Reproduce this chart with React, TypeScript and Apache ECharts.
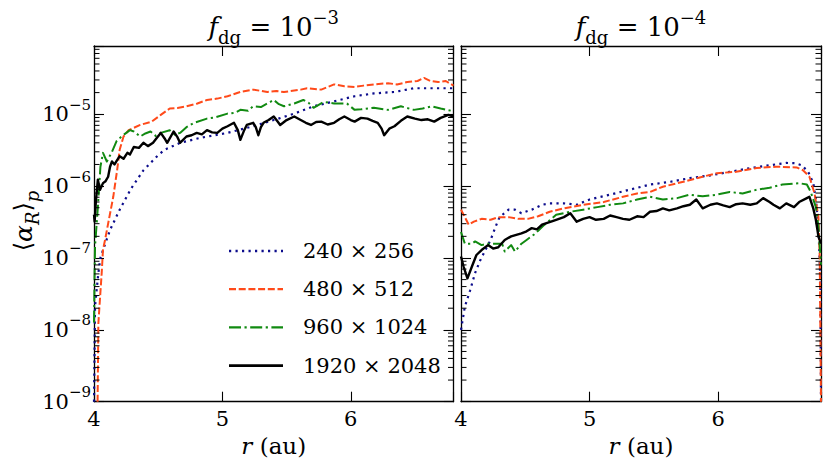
import React, { useEffect, useRef } from 'react';
import * as echarts from 'echarts';

const FONT = 'DejaVu Serif';

const SERIES_NAMES = ['240 × 256', '480 × 512', '960 × 1024', '1920 × 2048'];
const PANEL_TITLES = ['−3', '−4'];
const X_MIN = 4;
const X_MAX = 6.8;
const Y_MIN = 1e-9;
const Y_MAX = 8.9e-5;
const MINOR_MANTISSAS = [2, 3, 4, 5, 6, 7, 8, 9];
const DECADES = [-9, -8, -7, -6, -5];

// f_dg = 1e-3 panel
const L_240 = [
  [4.0, 1.0e-9], [4.008, 2.1e-8], [4.02, 3.5e-8], [4.034, 6.2e-8], [4.05, 1.0e-7], [4.08, 1.45e-7],
  [4.125, 2.45e-7], [4.2, 4.7e-7], [4.29, 9.3e-7], [4.385, 1.66e-6], [4.5, 2.7e-6], [4.55, 3.2e-6],
  [4.67, 4.0e-6], [4.83, 4.7e-6], [5.04, 5.5e-6], [5.24, 6.8e-6], [5.4, 8.3e-6], [5.56, 1.02e-5],
  [5.71, 1.29e-5], [5.87, 1.51e-5], [6.03, 1.78e-5], [6.18, 1.95e-5], [6.34, 2.04e-5], [6.49, 2.3e-5],
  [6.65, 2.3e-5], [6.8, 2.3e-5],
];
const L_480 = [
  [4.028, 1.0e-9], [4.034, 1.23e-8], [4.047, 2.8e-8], [4.06, 6.2e-8], [4.07, 1.3e-7], [4.086, 1.78e-7],
  [4.11, 3.0e-7], [4.15, 7.1e-7], [4.18, 1.66e-6], [4.2, 3.2e-6], [4.23, 4.9e-6], [4.27, 6.0e-6],
  [4.36, 7.1e-6], [4.45, 7.9e-6], [4.52, 9.8e-6], [4.59, 1.2e-5], [4.65, 1.22e-5], [4.72, 1.29e-5],
  [4.8, 1.4e-5], [4.88, 1.58e-5], [4.96, 1.65e-5], [5.04, 1.78e-5], [5.14, 2.04e-5], [5.24, 2.2e-5],
  [5.35, 2.04e-5], [5.42, 2.1e-5], [5.48, 2.04e-5], [5.61, 2.2e-5], [5.66, 2.3e-5], [5.77, 2.2e-5],
  [5.87, 2.6e-5], [5.95, 2.45e-5], [6.03, 2.4e-5], [6.1, 2.5e-5], [6.18, 2.6e-5], [6.29, 2.7e-5],
  [6.36, 2.6e-5], [6.44, 2.8e-5], [6.52, 2.9e-5], [6.57, 3.2e-5], [6.62, 2.9e-5], [6.68, 2.8e-5],
  [6.74, 2.9e-5], [6.8, 2.5e-5],
];
const L_960 = [
  [4.0, 1.26e-8], [4.004, 5.0e-8], [4.008, 1.45e-7], [4.03, 5.1e-7], [4.05, 1.86e-6], [4.07, 2.9e-6],
  [4.1, 2.2e-6], [4.14, 3.0e-6], [4.175, 4.2e-6], [4.22, 5.0e-6], [4.28, 6.0e-6], [4.31, 5.75e-6],
  [4.36, 4.9e-6], [4.4, 5.4e-6], [4.44, 5.75e-6], [4.48, 5.0e-6], [4.52, 5.5e-6], [4.59, 6.0e-6],
  [4.63, 5.2e-6], [4.67, 5.5e-6], [4.72, 6.6e-6], [4.78, 7.6e-6], [4.88, 8.7e-6], [4.95, 9.1e-6],
  [5.04, 1.02e-5], [5.1, 1.05e-5], [5.14, 1.15e-5], [5.2, 1.12e-5], [5.24, 1.29e-5], [5.3, 1.26e-5],
  [5.35, 1.41e-5], [5.4, 1.58e-5], [5.44, 1.38e-5], [5.48, 1.29e-5], [5.56, 1.41e-5], [5.63, 1.58e-5],
  [5.67, 1.45e-5], [5.71, 1.23e-5], [5.79, 1.48e-5], [5.87, 1.41e-5], [5.97, 1.41e-5], [6.03, 1.15e-5],
  [6.08, 1.17e-5], [6.18, 1.23e-5], [6.29, 1.15e-5], [6.39, 1.29e-5], [6.49, 1.15e-5], [6.56, 1.2e-5],
  [6.63, 1.29e-5], [6.7, 1.2e-5], [6.75, 1.15e-5], [6.8, 1.1e-5],
];
const L_1920 = [
  [4.0, 4.0e-7], [4.005, 3.2e-7], [4.015, 6.3e-7], [4.03, 1.23e-6], [4.047, 8.9e-7], [4.07, 1.1e-6],
  [4.09, 1.17e-6], [4.11, 1.35e-6], [4.125, 1.86e-6], [4.14, 2.2e-6], [4.16, 2.0e-6], [4.18, 2.3e-6],
  [4.2, 2.6e-6], [4.23, 2.4e-6], [4.26, 2.9e-6], [4.28, 2.75e-6], [4.31, 3.5e-6], [4.35, 3.4e-6],
  [4.385, 4.0e-6], [4.42, 3.6e-6], [4.46, 4.0e-6], [4.49, 4.7e-6], [4.52, 5.5e-6], [4.55, 4.6e-6],
  [4.57, 4.0e-6], [4.62, 5.75e-6], [4.65, 4.8e-6], [4.67, 4.0e-6], [4.72, 4.9e-6], [4.76, 5.1e-6],
  [4.8, 5.5e-6], [4.84, 5.25e-6], [4.88, 6.0e-6], [4.92, 5.6e-6], [4.96, 5.5e-6], [5.0, 6.3e-6],
  [5.04, 6.8e-6], [5.09, 7.6e-6], [5.12, 6.0e-6], [5.14, 4.4e-6], [5.17, 6.0e-6], [5.19, 7.1e-6],
  [5.24, 7.6e-6], [5.26, 6.6e-6], [5.28, 5.1e-6], [5.3, 6.6e-6], [5.32, 7.6e-6], [5.36, 8.3e-6],
  [5.4, 9.3e-6], [5.43, 7.9e-6], [5.45, 7.1e-6], [5.5, 8.3e-6], [5.56, 9.3e-6], [5.61, 8.3e-6],
  [5.65, 7.6e-6], [5.69, 7.1e-6], [5.73, 7.8e-6], [5.77, 7.9e-6], [5.82, 7.2e-6], [5.87, 7.6e-6],
  [5.91, 8.5e-6], [5.95, 9.3e-6], [6.0, 8.3e-6], [6.03, 7.9e-6], [6.08, 8.9e-6], [6.13, 8.7e-6],
  [6.17, 8.1e-6], [6.21, 7.6e-6], [6.24, 6.3e-6], [6.26, 5.1e-6], [6.3, 6.3e-6], [6.34, 6.8e-6],
  [6.39, 8.1e-6], [6.44, 9.3e-6], [6.5, 8.7e-6], [6.55, 8.3e-6], [6.6, 8.5e-6], [6.65, 7.9e-6],
  [6.7, 8.9e-6], [6.76, 9.8e-6], [6.8, 9.3e-6],
];

// f_dg = 1e-4 panel
const R_240 = [
  [4.0, 1.0e-8], [4.03, 2.1e-8], [4.07, 3.5e-8], [4.11, 6.2e-8], [4.15, 9.3e-8], [4.19, 1.29e-7],
  [4.23, 1.78e-7], [4.27, 2.75e-7], [4.3, 3.7e-7], [4.37, 4.7e-7], [4.42, 4.7e-7], [4.47, 4.2e-7],
  [4.55, 4.7e-7], [4.63, 5.5e-7], [4.69, 5.75e-7], [4.8, 5.75e-7], [4.9, 5.5e-7], [5.0, 6.5e-7],
  [5.16, 7.6e-7], [5.31, 8.9e-7], [5.47, 1.05e-6], [5.63, 1.15e-6], [5.78, 1.29e-6], [5.94, 1.41e-6],
  [6.09, 1.58e-6], [6.25, 1.78e-6], [6.4, 1.95e-6], [6.53, 2.1e-6], [6.6, 2.08e-6], [6.65, 1.95e-6],
  [6.7, 1.58e-6], [6.74, 1.1e-6], [6.76, 6.5e-7], [6.78, 2.75e-7], [6.795, 5.0e-8], [6.8, 1.0e-9],
];
const R_480 = [
  [4.0, 4.7e-7], [4.03, 3.7e-7], [4.06, 2.9e-7], [4.1, 3.2e-7], [4.16, 3.5e-7], [4.23, 3.4e-7],
  [4.29, 3.7e-7], [4.37, 3.7e-7], [4.45, 3.5e-7], [4.52, 3.5e-7], [4.6, 3.8e-7], [4.69, 4.4e-7],
  [4.8, 4.9e-7], [4.95, 5.5e-7], [5.11, 6.0e-7], [5.26, 7.1e-7], [5.37, 7.9e-7], [5.47, 8.3e-7],
  [5.57, 9.8e-7], [5.73, 1.15e-6], [5.88, 1.35e-6], [5.99, 1.51e-6], [6.14, 1.58e-6], [6.3, 1.78e-6],
  [6.45, 1.86e-6], [6.61, 1.82e-6], [6.66, 1.66e-6], [6.71, 1.35e-6], [6.75, 7.9e-7], [6.78, 3.7e-7],
  [6.79, 1.05e-7], [6.8, 1.0e-9],
];
const R_960 = [
  [4.0, 2.3e-7], [4.03, 1.58e-7], [4.085, 1.58e-7], [4.11, 1.7e-7], [4.16, 1.51e-7], [4.21, 1.58e-7],
  [4.27, 1.58e-7], [4.32, 1.58e-7], [4.34, 1.23e-7], [4.39, 1.51e-7], [4.42, 1.23e-7], [4.47, 1.58e-7],
  [4.51, 1.78e-7], [4.58, 2.2e-7], [4.64, 2.8e-7], [4.74, 4.0e-7], [4.85, 4.4e-7], [4.95, 4.7e-7],
  [5.06, 5.1e-7], [5.16, 5.5e-7], [5.26, 5.75e-7], [5.37, 6.5e-7], [5.47, 7.1e-7], [5.57, 6.5e-7],
  [5.68, 6.8e-7], [5.78, 7.6e-7], [5.88, 7.2e-7], [5.99, 7.6e-7], [6.09, 8.3e-7], [6.19, 7.9e-7],
  [6.3, 8.9e-7], [6.4, 9.5e-7], [6.5, 1.05e-6], [6.63, 1.1e-6], [6.69, 1.05e-6], [6.72, 8.3e-7],
  [6.76, 5.1e-7], [6.78, 2.75e-7], [6.8, 8.0e-8],
];
const R_1920 = [
  [4.0, 1.05e-7], [4.02, 7.6e-8], [4.05, 5.2e-8], [4.085, 7.6e-8], [4.12, 1.1e-7], [4.16, 1.29e-7],
  [4.21, 1.51e-7], [4.25, 1.35e-7], [4.29, 1.41e-7], [4.34, 1.78e-7], [4.39, 2.0e-7], [4.43, 2.1e-7],
  [4.47, 2.2e-7], [4.51, 2.35e-7], [4.55, 2.6e-7], [4.59, 2.5e-7], [4.63, 2.9e-7], [4.7, 3.2e-7],
  [4.74, 3.4e-7], [4.8, 3.7e-7], [4.85, 4.2e-7], [4.9, 3.2e-7], [4.95, 3.5e-7], [5.0, 3.7e-7],
  [5.05, 3.4e-7], [5.11, 3.5e-7], [5.16, 3.9e-7], [5.21, 3.7e-7], [5.26, 3.5e-7], [5.31, 3.4e-7],
  [5.37, 3.8e-7], [5.42, 3.7e-7], [5.47, 4.4e-7], [5.52, 4.5e-7], [5.57, 4.9e-7], [5.62, 4.6e-7],
  [5.68, 4.9e-7], [5.73, 5.25e-7], [5.78, 5.5e-7], [5.83, 6.5e-7], [5.88, 4.9e-7], [5.94, 5.5e-7],
  [5.99, 5.75e-7], [6.04, 5.4e-7], [6.09, 5.1e-7], [6.14, 5.6e-7], [6.19, 5.75e-7], [6.25, 5.5e-7],
  [6.3, 5.75e-7], [6.35, 6.8e-7], [6.4, 6.0e-7], [6.43, 5.5e-7], [6.48, 4.9e-7], [6.53, 5.75e-7],
  [6.59, 5.1e-7], [6.63, 6.0e-7], [6.69, 6.8e-7], [6.71, 7.1e-7], [6.74, 4.9e-7], [6.76, 3.4e-7],
  [6.78, 2.0e-7], [6.8, 1.58e-7],
];

const LEFT_DATA = [L_240, L_480, L_960, L_1920];
const RIGHT_DATA = [R_240, R_480, R_960, R_1920];

const COLORS = ['#0c0c8c', '#ff4a1a', '#118a11', '#000000'];
const DASHES: any[] = [[2.2, 4.3], [7, 2.7], [12, 3.5, 2.2, 3.5], 'solid'];
const WIDTHS = [2.2, 2, 2, 2.4];

const GRIDS = [
  { left: 94, top: 46, width: 359.5, height: 355.7 },
  { left: 461, top: 46, width: 360, height: 355.7 },
];

function isDecade(v: number) {
  const l = Math.log10(v);
  return Math.abs(l - Math.round(l)) < 1e-6;
}

export default function App() {
  const ref = useRef<HTMLDivElement>(null);
  useEffect(() => {
    document.body.style.margin = '0';
    const chart = echarts.init(ref.current!, null, { renderer: 'svg' });

    const minorVals: number[] = [];
    DECADES.forEach((d) =>
      MINOR_MANTISSAS.forEach((m) => {
        const v = m * Math.pow(10, d);
        if (v < Y_MAX) minorVals.push(v);
      })
    );

    const tickLine = { show: true, inside: true, length: 10, lineStyle: { color: '#000', width: 1.1 } };
    const axLine = { show: true, onZero: false, lineStyle: { color: '#000', width: 1.3 } };

    const xAxes: any[] = [];
    const yAxes: any[] = [];
    [0, 1].forEach((g) => {
      const nameRich = {
        i: { fontFamily: FONT, fontSize: 23, fontStyle: 'italic', color: '#000' },
        n: { fontFamily: FONT, fontSize: 23, color: '#000' },
      };
      xAxes.push({
        type: 'value', gridIndex: g, min: X_MIN, max: X_MAX, interval: 1, position: 'bottom',
        axisLine: axLine, axisTick: tickLine, splitLine: { show: false },
        axisLabel: {
          margin: 7, fontFamily: FONT, fontSize: 21, color: '#000',
          formatter: (v: number) => (Number.isInteger(v) ? String(v) : ''),
        },
        name: '{i|r}{n| (au)}', nameLocation: 'middle', nameGap: 30,
        nameTextStyle: { fontFamily: FONT, rich: nameRich },
      });
      xAxes.push({
        type: 'value', gridIndex: g, min: X_MIN, max: X_MAX, interval: 1, position: 'top',
        axisLine: axLine, axisTick: tickLine, splitLine: { show: false }, axisLabel: { show: false },
      });
      const yRich = {
        b: { fontFamily: FONT, fontSize: 21, color: '#000', lineHeight: 34 },
        s: { fontFamily: FONT, fontSize: 15, color: '#000', lineHeight: 18, verticalAlign: 'top' },
      };
      yAxes.push({
        type: 'log', logBase: 10, gridIndex: g, min: Y_MIN, max: Y_MAX, position: 'left',
        axisLine: axLine, axisTick: tickLine, splitLine: { show: false },
        axisLabel: {
          show: g === 0, margin: 3, fontFamily: FONT, rich: yRich,
          formatter: (v: number) => (isDecade(v) ? `{b|10}{s|−${-Math.round(Math.log10(v))}}` : ''),
        },
      });
      yAxes.push({
        type: 'log', logBase: 10, gridIndex: g, min: Y_MIN, max: Y_MAX, position: 'right',
        axisLine: axLine, axisTick: tickLine, splitLine: { show: false }, axisLabel: { show: false },
      });
    });

    const series: any[] = [];
    [LEFT_DATA, RIGHT_DATA].forEach((set, g) => {
      set.forEach((data, k) => {
        series.push({
          type: 'line', name: SERIES_NAMES[k], xAxisIndex: g * 2, yAxisIndex: g * 2,
          data, showSymbol: false, symbol: 'none', smooth: false,
          lineStyle: { color: COLORS[k], width: WIDTHS[k], type: DASHES[k], cap: 'butt', join: 'round' },
          itemStyle: { color: COLORS[k] },
          z: 2 + k,
        });
      });
      series.push({
        type: 'custom', xAxisIndex: g * 2, yAxisIndex: g * 2, silent: true, clip: false, z: 10,
        data: minorVals.map((v) => [X_MIN, v]),
        renderItem: (params: any, api: any) => {
          const v = api.value(1);
          const a = api.coord([X_MIN, v]);
          const b = api.coord([X_MAX, v]);
          const st = { stroke: '#000', lineWidth: 1 };
          return {
            type: 'group',
            children: [
              { type: 'line', shape: { x1: a[0], y1: a[1], x2: a[0] + 5.5, y2: a[1] }, style: st },
              { type: 'line', shape: { x1: b[0] - 5.5, y1: b[1], x2: b[0], y2: b[1] }, style: st },
            ],
          };
        },
      });
    });

    const titleRich = {
      i: { fontFamily: FONT, fontSize: 26, fontStyle: 'italic', color: '#000', lineHeight: 38 },
      d: { fontFamily: FONT, fontSize: 18, color: '#000', lineHeight: 26, verticalAlign: 'bottom' },
      n: { fontFamily: FONT, fontSize: 26, color: '#000', lineHeight: 38 },
      p: { fontFamily: FONT, fontSize: 18, color: '#000', lineHeight: 22, verticalAlign: 'top' },
    };
    const graphics: any[] = GRIDS.map((gr, g) => ({
      type: 'text',
      x: gr.left + gr.width / 2,
      y: 27,
      style: {
        text: `{i|f}{d|dg}{n| = 10}{p|${PANEL_TITLES[g]}}`,
        fontFamily: FONT,
        rich: titleRich, align: 'center', verticalAlign: 'middle',
      },
    }));
    graphics.push({
      type: 'text',
      x: 23,
      y: 221,
      rotation: Math.PI / 2,
      style: {
        text: '{a|⟨}{g|α}{s|R}{a|⟩}{s|p}',
        fontFamily: FONT,
        align: 'center', verticalAlign: 'middle',
        rich: {
          a: { fontFamily: FONT, fontSize: 24, color: '#000', lineHeight: 36 },
          g: { fontFamily: FONT, fontSize: 25, fontStyle: 'italic', color: '#000', lineHeight: 36 },
          s: { fontFamily: FONT, fontSize: 18, fontStyle: 'italic', color: '#000', lineHeight: 24, verticalAlign: 'bottom' },
        },
      },
    });

    const LEG_X = 229;
    const LEG_TOP = 251;
    const LEG_STEP = 38.2;
    SERIES_NAMES.forEach((nm, k) => {
      const y = LEG_TOP + k * LEG_STEP;
      graphics.push({
        type: 'line',
        shape: { x1: LEG_X, y1: y, x2: LEG_X + 54, y2: y },
        style: {
          stroke: COLORS[k], lineWidth: WIDTHS[k] + 0.2,
          lineDash: Array.isArray(DASHES[k]) ? DASHES[k] : null,
        },
        z: 20,
      });
      graphics.push({
        type: 'text',
        x: LEG_X + 74,
        y,
        style: { text: nm, fontFamily: FONT, fontSize: 21, fill: '#000', align: 'left', verticalAlign: 'middle' },
        z: 20,
      });
    });

    chart.setOption({
      animation: false,
      backgroundColor: '#fff',
      grid: GRIDS.map((g) => ({ ...g, containLabel: false })),
      xAxis: xAxes,
      yAxis: yAxes,
      graphic: graphics,
      series,
    });
    return () => chart.dispose();
  }, []);
  return <div ref={ref} style={{ position: 'fixed', left: 0, top: 0, width: 831, height: 470, background: '#fff' }} />;
}
